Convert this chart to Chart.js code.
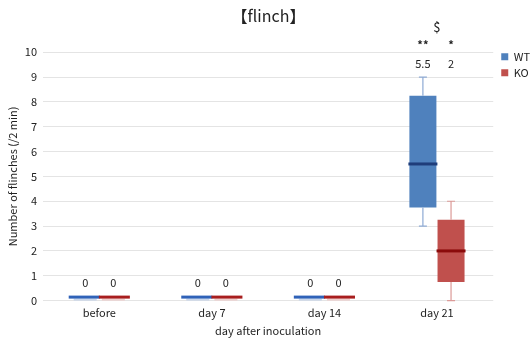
<!DOCTYPE html>
<html>
<head>
<meta charset="utf-8">
<script src="https://cdn.jsdelivr.net/npm/chart.js@4/dist/chart.umd.min.js"></script>
<style>
  html, body { margin: 0; padding: 0; background: #fff; }
  #wrap { width: 531px; height: 338px; }
</style>
</head>
<body>
<div id="wrap"><canvas id="chart"></canvas></div>
<script>
// categories
const days = ['before', 'day 7', 'day 14', 'day 21'];

// box stats per group: min, q1, median, q3, max
const wtMin = [0, 0, 0, 3];
const wtQ1 = [0, 0, 0, 3.75];
const wtMedian = [0, 0, 0, 5.5];
const wtQ3 = [0, 0, 0, 8.25];
const wtMax = [0, 0, 0, 9];

const koMin = [0, 0, 0, 0];
const koQ1 = [0, 0, 0, 0.75];
const koMedian = [0, 0, 0, 2];
const koQ3 = [0, 0, 0, 3.25];
const koMax = [0, 0, 0, 4];

// significance marks
const wtSig = ['', '', '', '**'];
const koSig = ['', '', '', '*'];
const groupSig = ['', '', '', '$'];

const yTicks = [0, 1, 2, 3, 4, 5, 6, 7, 8, 9, 10];

const FONT = '"Noto Sans CJK JP", "Noto Sans", sans-serif';

const series = [
    { label: 'WT', min: wtMin, q1: wtQ1, med: wtMedian, q3: wtQ3, max: wtMax, sig: wtSig,
      fill: '#4f81bd', median: '#1f3d7a', zeroLine: '#2f62b8', whisker: '#8eaad4', pale: '#c9d6ea' },
    { label: 'KO', min: koMin, q1: koQ1, med: koMedian, q3: koQ3, max: koMax, sig: koSig,
      fill: '#c0504d', median: '#8b0b0b', zeroLine: '#a81e1e', whisker: '#dc9a98', pale: '#efcfce' }
];

// move the legend a bit, like the original sheet
const legendNudge = {
    id: 'legendNudge',
    afterLayout(chart) {
        const lg = chart.legend;
        if (!lg) return;
        lg.left += 3;
        lg.right += 3;
        lg.top -= 6;
        lg.bottom -= 6;
    }
};

// whiskers, medians and labels on top of the floating bars
const boxExtras = {
    id: 'boxExtras',
    afterDatasetsDraw(chart) {
        const ctx = chart.ctx;
        const y = chart.scales.y;
        ctx.save();
        series.forEach((s, di) => {
            const meta = chart.getDatasetMeta(di);
            meta.data.forEach((bar, i) => {
                const cx = bar.x;
                const half = bar.width / 2;
                const flat = s.q3[i] === s.q1[i];
                // whiskers
                if (!flat) {
                    ctx.strokeStyle = s.whisker;
                    ctx.lineWidth = 1.2;
                    ctx.beginPath();
                    ctx.moveTo(cx, y.getPixelForValue(s.q3[i]));
                    ctx.lineTo(cx, y.getPixelForValue(s.max[i]));
                    ctx.moveTo(cx - 4, y.getPixelForValue(s.max[i]));
                    ctx.lineTo(cx + 4, y.getPixelForValue(s.max[i]));
                    ctx.moveTo(cx, y.getPixelForValue(s.q1[i]));
                    ctx.lineTo(cx, y.getPixelForValue(s.min[i]));
                    ctx.moveTo(cx - 4, y.getPixelForValue(s.min[i]));
                    ctx.lineTo(cx + 4, y.getPixelForValue(s.min[i]));
                    ctx.stroke();
                }
                // median
                const my = y.getPixelForValue(s.med[i]);
                if (flat) {
                    ctx.fillStyle = s.pale;
                    ctx.fillRect(cx - half + 2, my - 2, bar.width - 4, 2);
                    ctx.fillStyle = s.zeroLine;
                    const left = di === 0 ? cx - half - 3 : cx - half - 1;
                    ctx.fillRect(left, my - 5, bar.width + 4, 3);
                } else {
                    ctx.fillStyle = s.median;
                    ctx.fillRect(cx - half - 1, my - 1.5, bar.width + 2, 3);
                }
                // value label above group
                const top = Math.max(wtMax[i], koMax[i]);
                const ly = (flat && top === 0 ? my - 5 : y.getPixelForValue(top)) - 13;
                ctx.fillStyle = '#222';
                ctx.font = '11px ' + FONT;
                ctx.textAlign = 'center';
                ctx.textBaseline = 'middle';
                ctx.fillText(String(s.med[i]), cx, ly);
                if (s.sig[i]) {
                    ctx.font = 'bold 11px ' + FONT;
                    ctx.fillText(s.sig[i], cx, y.getPixelForValue(10) - 7);
                }
            });
        });
        // group-level mark
        const m0 = chart.getDatasetMeta(0).data;
        const m1 = chart.getDatasetMeta(1).data;
        groupSig.forEach((g, i) => {
            if (!g) return;
            ctx.fillStyle = '#222';
            ctx.font = '13px ' + FONT;
            ctx.textAlign = 'center';
            ctx.textBaseline = 'middle';
            ctx.fillText(g, (m0[i].x + m1[i].x) / 2, y.getPixelForValue(10) - 25);
        });
        ctx.restore();
    }
};

new Chart(document.getElementById('chart'), {
    type: 'bar',
    data: {
        labels: days,
        datasets: series.map(s => ({
            label: s.label,
            data: s.q1.map((q, i) => [q, s.q3[i]]),
            backgroundColor: s.fill,
            borderColor: s.fill,
            borderWidth: 0,
            borderSkipped: false,
            categoryPercentage: 0.5,
            barPercentage: 0.96
        }))
    },
    options: {
        responsive: true,
        maintainAspectRatio: false,
        animation: false,
        layout: { padding: { top: 0, right: -6, bottom: 1, left: 0 } },
        plugins: {
            title: {
                display: true,
                text: '【flinch】',
                color: '#222',
                font: { family: FONT, size: 16, weight: 'normal' },
                padding: { top: 6, bottom: 27 }
            },
            legend: {
                position: 'right',
                align: 'start',
                fullSize: false,
                labels: {
                    boxWidth: 7,
                    boxHeight: 7,
                    padding: 5,
                    color: '#222',
                    font: { family: FONT, size: 11 }
                }
            },
            tooltip: { enabled: false }
        },
        scales: {
            x: {
                grid: { display: false },
                border: { display: false },
                ticks: { color: '#222', font: { family: FONT, size: 11 }, padding: -2 },
                title: {
                    display: true,
                    text: 'day after inoculation',
                    color: '#222',
                    font: { family: FONT, size: 11 },
                    padding: { top: 6, bottom: 0 }
                }
            },
            y: {
                min: 0,
                max: 10,
                afterBuildTicks: s => { s.ticks = yTicks.map(v => ({ value: v })); },
                afterFit: s => { s.width = 43; },
                grid: { color: '#e4e4e4', drawTicks: false },
                border: { display: false },
                ticks: { color: '#222', font: { family: FONT, size: 11 }, padding: 6 },
                title: {
                    display: true,
                    text: 'Number of flinches (/2 min)',
                    color: '#222',
                    font: { family: FONT, size: 11 },
                    padding: { top: 6, bottom: 0 }
                }
            }
        }
    },
    plugins: [boxExtras, legendNudge]
});
</script>
</body>
</html>
